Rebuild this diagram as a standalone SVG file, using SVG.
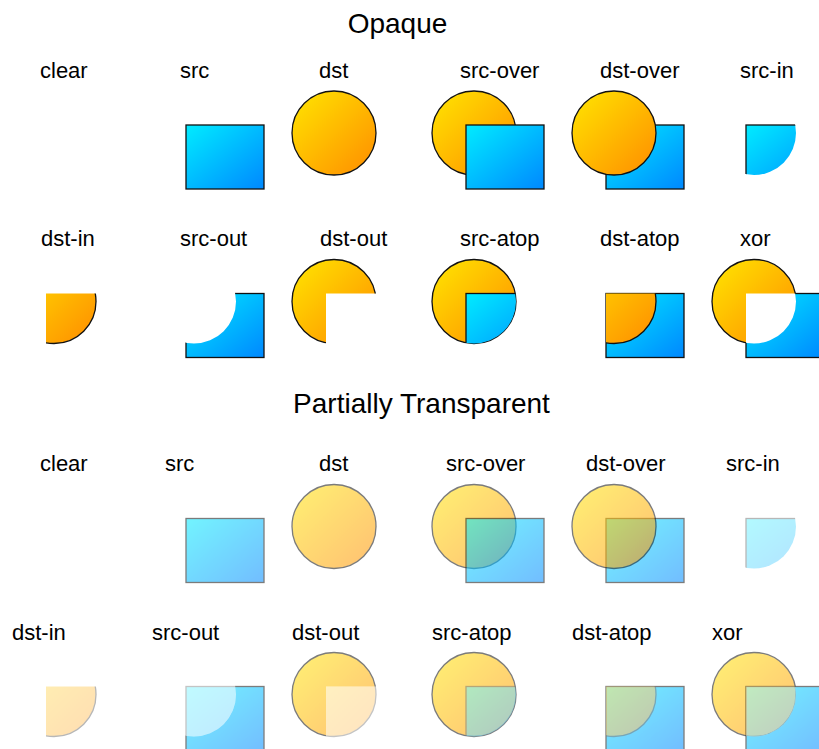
<svg xmlns="http://www.w3.org/2000/svg" xmlns:xlink="http://www.w3.org/1999/xlink" width="819" height="749" viewBox="0 0 819 749">
<style>
.t{font-family:"Liberation Sans",Arial,sans-serif;font-size:22px;fill:#000}
.h{font-family:"Liberation Sans",Arial,sans-serif;font-size:28px;fill:#000;text-anchor:middle}
</style>
<defs>
<linearGradient id="gb" x1="0" y1="0" x2="1" y2="1"><stop offset="0" stop-color="#00ecff"/><stop offset="1" stop-color="#0088ff"/></linearGradient>
<linearGradient id="go" x1="0" y1="0" x2="1" y2="1"><stop offset="0" stop-color="#ffe600"/><stop offset="1" stop-color="#ff8c00"/></linearGradient>
<rect id="R" width="78" height="64" fill="url(#gb)" stroke="#111" stroke-width="1.3"/>
<circle id="C" cx="8" cy="8" r="42" fill="url(#go)" stroke="#111" stroke-width="1.3"/>
<clipPath id="cpC"><circle cx="8" cy="8" r="42"/></clipPath>
<clipPath id="cpR"><rect width="78" height="64"/></clipPath>
<clipPath id="cpNC"><path clip-rule="evenodd" d="M-100,-100H200V200H-100Z M50,8A42,42 0 1,0 -34,8A42,42 0 1,0 50,8Z"/></clipPath>
<clipPath id="cpNR"><path clip-rule="evenodd" d="M-100,-100H200V200H-100Z M0,0H78V64H0Z"/></clipPath>
</defs>
<rect width="819" height="749" fill="#fff"/>
<text class="h" x="397.5" y="33">Opaque</text>
<text class="h" x="421.5" y="413">Partially Transparent</text>

<!-- Opaque row 1 -->
<g id="op-clear"><text class="t" x="40" y="78">clear</text><g transform="translate(46,125)"/></g>
<g id="op-src"><text class="t" x="180" y="78">src</text><g transform="translate(186,125)"><use href="#R"/></g></g>
<g id="op-dst"><text class="t" x="319" y="78">dst</text><g transform="translate(326,125)"><use href="#C"/></g></g>
<g id="op-src-over"><text class="t" x="460" y="78">src-over</text><g transform="translate(466,125)"><use href="#C"/><use href="#R"/></g></g>
<g id="op-dst-over"><text class="t" x="600" y="78">dst-over</text><g transform="translate(606,125)"><use href="#R"/><use href="#C"/></g></g>
<g id="op-src-in"><text class="t" x="740" y="78">src-in</text><g transform="translate(746,125)"><use href="#R" clip-path="url(#cpC)"/></g></g>

<!-- Opaque row 2 -->
<g id="op-dst-in"><text class="t" x="41" y="246">dst-in</text><g transform="translate(46,293.5)"><use href="#C" clip-path="url(#cpR)"/></g></g>
<g id="op-src-out"><text class="t" x="180" y="246">src-out</text><g transform="translate(186,293.5)"><use href="#R" clip-path="url(#cpNC)"/></g></g>
<g id="op-dst-out"><text class="t" x="320" y="246">dst-out</text><g transform="translate(326,293.5)"><use href="#C" clip-path="url(#cpNR)"/></g></g>
<g id="op-src-atop"><text class="t" x="460" y="246">src-atop</text><g transform="translate(466,293.5)"><use href="#C"/><use href="#R" clip-path="url(#cpC)"/></g></g>
<g id="op-dst-atop"><text class="t" x="600" y="246">dst-atop</text><g transform="translate(606,293.5)"><use href="#R"/><use href="#C" clip-path="url(#cpR)"/></g></g>
<g id="op-xor"><text class="t" x="740" y="246">xor</text><g transform="translate(746,293.5)"><use href="#C" clip-path="url(#cpNR)"/><use href="#R" clip-path="url(#cpNC)"/></g></g>

<!-- Partial row 3 -->
<g id="pt-clear"><text class="t" x="40" y="471">clear</text><g transform="translate(46,518.5)"/></g>
<g id="pt-src"><text class="t" x="165" y="471">src</text><g transform="translate(186,518.5)"><use href="#R" opacity="0.55"/></g></g>
<g id="pt-dst"><text class="t" x="319" y="471">dst</text><g transform="translate(326,518.5)"><use href="#C" opacity="0.55"/></g></g>
<g id="pt-src-over"><text class="t" x="446" y="471">src-over</text><g transform="translate(466,518.5)"><use href="#C" opacity="0.55"/><use href="#R" opacity="0.55"/></g></g>
<g id="pt-dst-over"><text class="t" x="586" y="471">dst-over</text><g transform="translate(606,518.5)"><use href="#R" opacity="0.55"/><use href="#C" opacity="0.55"/></g></g>
<g id="pt-src-in"><text class="t" x="726" y="471">src-in</text><g transform="translate(746,518.5)"><use href="#R" clip-path="url(#cpC)" opacity="0.3025"/></g></g>

<!-- Partial row 4 -->
<g id="pt-dst-in"><text class="t" x="12" y="640">dst-in</text><g transform="translate(46,686.5)"><use href="#C" clip-path="url(#cpR)" opacity="0.3025"/></g></g>
<g id="pt-src-out"><text class="t" x="152" y="640">src-out</text><g transform="translate(186,686.5)"><use href="#R" clip-path="url(#cpNC)" opacity="0.55"/><use href="#R" clip-path="url(#cpC)" opacity="0.2475"/></g></g>
<g id="pt-dst-out"><text class="t" x="292" y="640">dst-out</text><g transform="translate(326,686.5)"><use href="#C" clip-path="url(#cpNR)" opacity="0.55"/><use href="#C" clip-path="url(#cpR)" opacity="0.2475"/></g></g>
<g id="pt-src-atop"><text class="t" x="432" y="640">src-atop</text><g transform="translate(466,686.5)"><g opacity="0.55"><use href="#C"/><use href="#R" clip-path="url(#cpC)" opacity="0.55"/></g></g></g>
<g id="pt-dst-atop"><text class="t" x="572" y="640">dst-atop</text><g transform="translate(606,686.5)"><g opacity="0.55"><use href="#R"/><use href="#C" clip-path="url(#cpR)" opacity="0.55"/></g></g></g>
<g id="pt-xor"><text class="t" x="712" y="640">xor</text><g transform="translate(746,686.5)"><use href="#C" clip-path="url(#cpNR)" opacity="0.55"/><use href="#R" clip-path="url(#cpNC)" opacity="0.55"/><g clip-path="url(#cpC)" opacity="0.495"><use href="#R"/><use href="#C" clip-path="url(#cpR)" opacity="0.5"/></g></g></g>
</svg>
